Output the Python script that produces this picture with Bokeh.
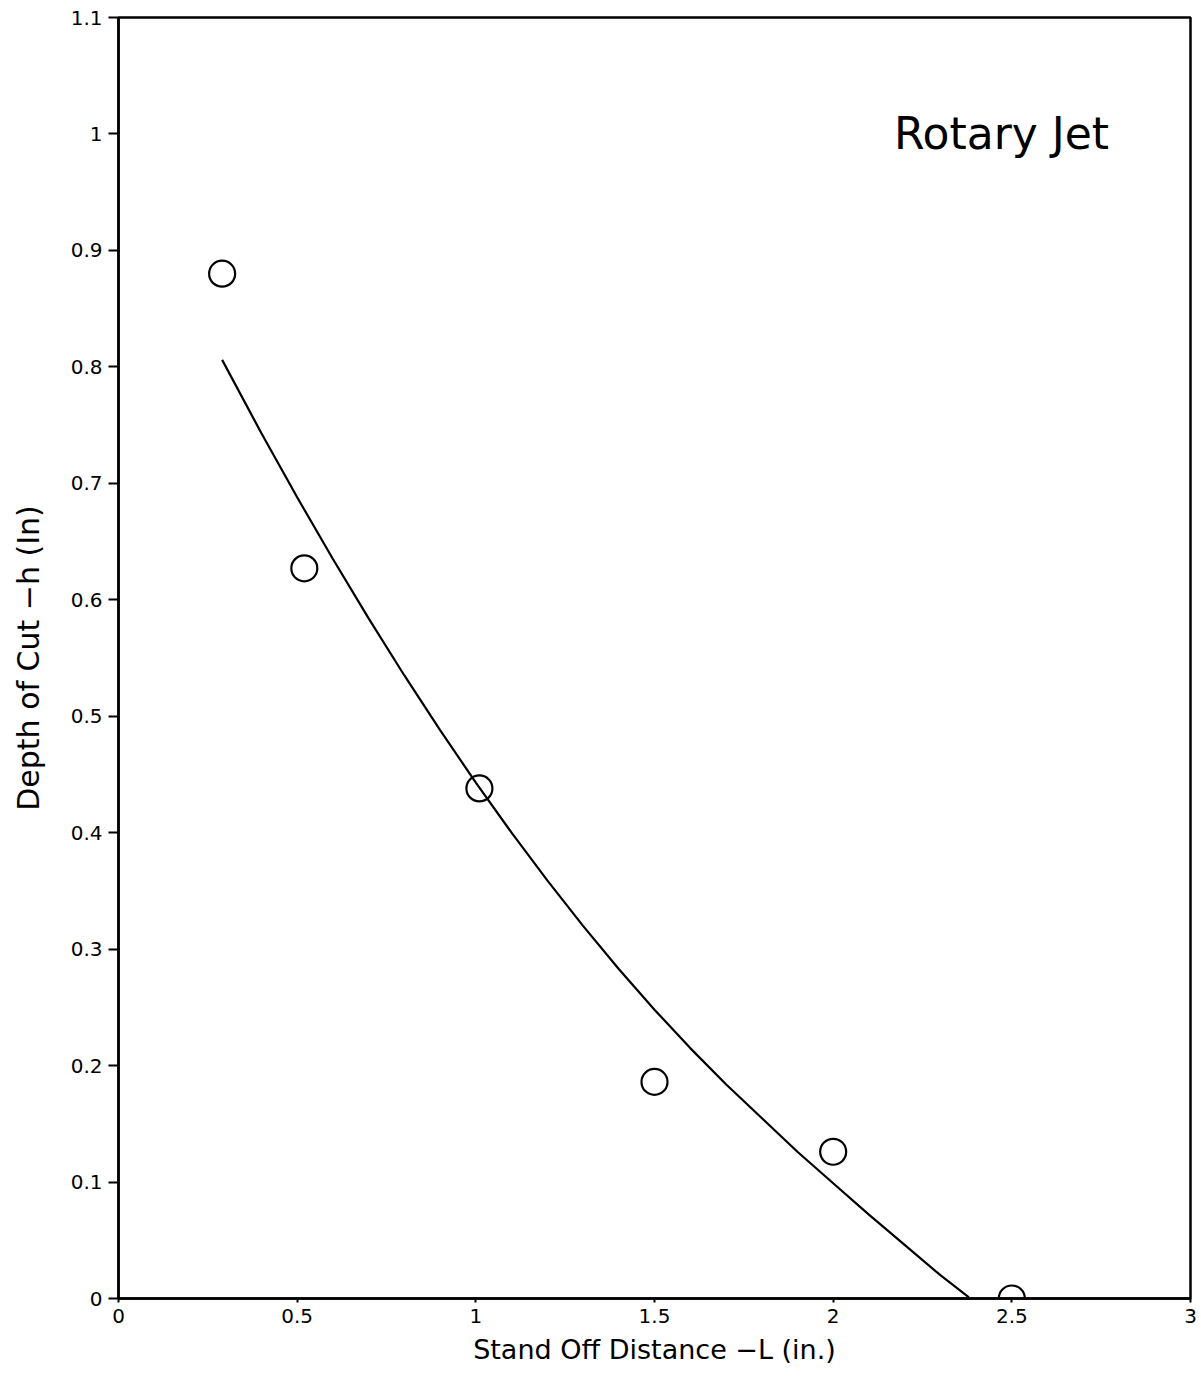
from bokeh.plotting import figure
from bokeh.models import Range1d, FixedTicker, Label
from bokeh.embed import file_html
from bokeh.resources import INLINE

# Measured data points (stand-off distance vs. depth of cut)
x_pts = [0.29, 0.52, 1.01, 1.50, 2.00, 2.50]
y_pts = [0.880, 0.627, 0.438, 0.186, 0.126, 0.0]

# Fitted curve
fit_x = [0.29, 0.40, 0.50, 0.60, 0.70, 0.80, 0.90, 1.00, 1.10, 1.20, 1.30,
         1.40, 1.50, 1.60, 1.70, 1.80, 1.90, 2.00, 2.10, 2.20, 2.30, 2.38]
fit_y = [0.806, 0.743, 0.688, 0.635, 0.584, 0.535, 0.488, 0.443, 0.400, 0.359,
         0.320, 0.283, 0.248, 0.215, 0.184, 0.155, 0.126, 0.099, 0.072, 0.046,
         0.020, 0.001]

x_ticks = [0, 0.5, 1, 1.5, 2, 2.5, 3]
x_tick_labels = ["0", "0.5", "1", "1.5", "2", "2.5", "3"]
y_ticks = [0, 0.1, 0.2, 0.3, 0.4, 0.5, 0.6, 0.7, 0.8, 0.9, 1.0, 1.1]
y_tick_labels = ["0", "0.1", "0.2", "0.3", "0.4", "0.5", "0.6", "0.7", "0.8",
                 "0.9", "1", "1.1"]

title_text = "Rotary Jet"
x_label = "Stand Off Distance \u2212L (in.)"
y_label = "Depth of Cut \u2212h (In)"

FONT = "DejaVu Sans"

p = figure(width=1201, height=1382, output_backend="svg", toolbar_location=None,
           x_range=Range1d(0, 3), y_range=Range1d(0, 1.1),
           min_border_left=118, min_border_right=11, min_border_top=17,
           min_border_bottom=84)
p.grid.visible = False
p.outline_line_color = "black"
p.outline_line_width = 2.5
p.background_fill_color = "white"
p.border_fill_color = "white"

p.xaxis.ticker = FixedTicker(ticks=x_ticks)
p.xaxis.major_label_overrides = {t: l for t, l in zip(x_ticks, x_tick_labels)}
p.yaxis.ticker = FixedTicker(ticks=y_ticks)
p.yaxis.major_label_overrides = {t: l for t, l in zip(y_ticks, y_tick_labels)}

for ax in (p.xaxis, p.yaxis):
    ax.axis_line_color = "black"
    ax.axis_line_width = 2.5
    ax.major_tick_line_color = "black"
    ax.major_tick_line_width = 2
    ax.minor_tick_line_color = None
    ax.major_tick_in = 0
    ax.major_label_text_font = FONT
    ax.major_label_text_font_size = "20px"
    ax.major_label_text_color = "black"
    ax.axis_label_text_font = FONT
    ax.axis_label_text_font_style = "normal"
    ax.axis_label_text_color = "black"

p.xaxis.axis_label_text_font_size = "27px"
p.yaxis.axis_label_text_font_size = "30px"
p.xaxis.major_tick_out = 4
p.yaxis.major_tick_out = 10
p.xaxis.major_label_standoff = 6
p.yaxis.major_label_standoff = 6
p.xaxis.axis_label = x_label
p.yaxis.axis_label = y_label
p.xaxis.axis_label_standoff = 8
p.yaxis.axis_label_standoff = 22

p.line(fit_x, fit_y, line_color="black", line_width=2.2)
p.scatter(x_pts, y_pts, marker="circle", size=26, fill_color=None,
          line_color="black", line_width=2.2)

p.add_layout(Label(x=2.17, y=1.0, text=title_text, text_font=FONT,
                   text_font_size="44px", text_color="black",
                   text_baseline="middle", text_align="left"))

open("out.html", "w").write(file_html(p, INLINE))
